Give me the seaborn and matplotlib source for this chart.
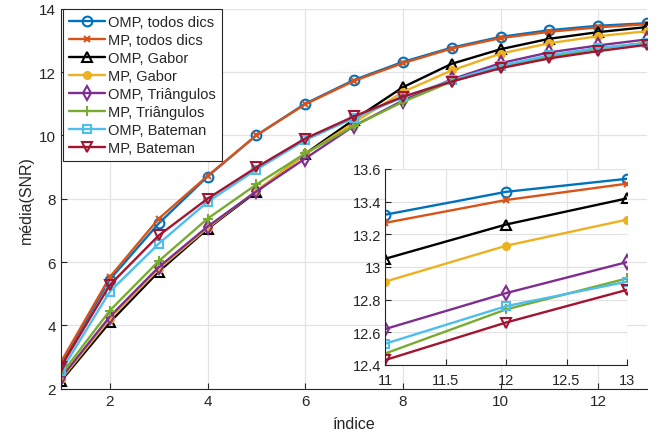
import matplotlib
matplotlib.use("Agg")
from matplotlib import pyplot as plt
from matplotlib.ticker import FuncFormatter
import seaborn as sns

indice = [1, 2, 3, 4, 5, 6, 7, 8, 9, 10, 11, 12, 13]

omp_todos = [2.80, 5.45, 7.22, 8.70, 10.00, 11.00, 11.75, 12.32, 12.77, 13.11, 13.32, 13.46, 13.54]
mp_todos = [2.85, 5.53, 7.37, 8.72, 10.00, 10.98, 11.72, 12.28, 12.74, 13.07, 13.27, 13.41, 13.51]
omp_gabor = [2.25, 4.10, 5.70, 7.05, 8.22, 9.42, 10.50, 11.52, 12.26, 12.72, 13.05, 13.26, 13.42]
mp_gabor = [2.30, 4.20, 5.78, 7.08, 8.25, 9.40, 10.40, 11.37, 12.05, 12.58, 12.91, 13.13, 13.29]
omp_tri = [2.35, 4.28, 5.84, 7.12, 8.23, 9.27, 10.30, 11.10, 11.77, 12.28, 12.62, 12.84, 13.03]
mp_tri = [2.45, 4.47, 6.03, 7.37, 8.45, 9.43, 10.30, 11.06, 11.70, 12.15, 12.47, 12.74, 12.93]
omp_bat = [2.55, 5.07, 6.58, 7.90, 8.92, 9.85, 10.55, 11.20, 11.74, 12.20, 12.53, 12.76, 12.91]
mp_bat = [2.70, 5.28, 6.84, 8.00, 8.99, 9.90, 10.60, 11.22, 11.70, 12.12, 12.43, 12.66, 12.86]

labels = ["OMP, todos dics", "MP, todos dics", "OMP, Gabor", "MP, Gabor",
          "OMP, Triângulos", "MP, Triângulos", "OMP, Bateman", "MP, Bateman"]

series = [omp_todos, mp_todos, omp_gabor, mp_gabor, omp_tri, mp_tri, omp_bat, mp_bat]
colors = ["#0072BD", "#D95319", "#000000", "#EDB120",
          "#7E2F8E", "#77AC30", "#4DBEEE", "#A2142F"]
# (marker, filled, size)
markers = [("o", False, 7), ("x", True, 5), ("^", False, 7), ("o", True, 5),
           ("d", False, 7), ("+", True, 7), ("s", False, 6), ("v", False, 7)]

sns.set_style("whitegrid")
plt.rcParams['font.family'] = ['Liberation Sans', 'DejaVu Sans']

fig = plt.figure(figsize=(6.63, 4.39), dpi=100)
ax = fig.add_axes([0.092, 0.112, 0.884, 0.866])


def draw(ax, start):
    for ys, lab, c, (m, filled, ms) in zip(series, labels, colors, markers):
        sns.lineplot(x=indice[start:], y=ys[start:], ax=ax, color=c,
                     marker=m, markersize=ms,
                     markerfacecolor=c if filled else "none",
                     markeredgecolor=c, markeredgewidth=1.5,
                     linewidth=1.7, label=lab, legend=False)


def style(ax):
    ax.set_facecolor("white")
    ax.grid(True, color="#e3e3e3", linewidth=0.9)
    for s in ["top", "right"]:
        ax.spines[s].set_visible(False)
    for s in ["left", "bottom"]:
        ax.spines[s].set_visible(True)
        ax.spines[s].set_color("#262626")
        ax.spines[s].set_linewidth(0.8)
    ax.tick_params(direction="in", length=4, width=0.8, color="#262626",
                   labelsize=11, labelcolor="#262626", left=True, bottom=True)


draw(ax, 0)
style(ax)
ax.set_xlim(1, 13)
ax.set_ylim(2, 14)
ax.set_xticks([2, 4, 6, 8, 10, 12])
ax.set_yticks([2, 4, 6, 8, 10, 12, 14])
ax.set_xlabel("índice", fontsize=11.5, color="#262626", labelpad=6)
ax.set_ylabel("média(SNR)", fontsize=11.5, color="#262626")

leg = ax.legend(loc="upper left", fontsize=10.5, handlelength=2.5,
                borderaxespad=0.0, labelspacing=0.27, borderpad=0.4,
                handletextpad=0.2, fancybox=False, framealpha=1,
                bbox_to_anchor=(0.003, 0.998))
leg.get_frame().set_edgecolor("#262626")
leg.get_frame().set_linewidth(0.8)

# inset zoom on the last three indices
ins = fig.add_axes([0.5807, 0.1663, 0.365, 0.4465])
draw(ins, 10)
style(ins)
ins.set_xlim(11, 13)
ins.set_ylim(12.4, 13.6)
ins.set_xticks([11, 11.5, 12, 12.5, 13])
ins.set_yticks([12.4, 12.6, 12.8, 13.0, 13.2, 13.4, 13.6])
fmt = FuncFormatter(lambda v, p: "%g" % round(v, 2))
ins.xaxis.set_major_formatter(fmt)
ins.yaxis.set_major_formatter(fmt)
ins.tick_params(labelsize=10.5)
ins.tick_params(axis="x", pad=6)
ins.tick_params(axis="y", pad=3)
ins.set_xlabel("")
ins.set_ylabel("")

fig.savefig("out.png", dpi=100)
